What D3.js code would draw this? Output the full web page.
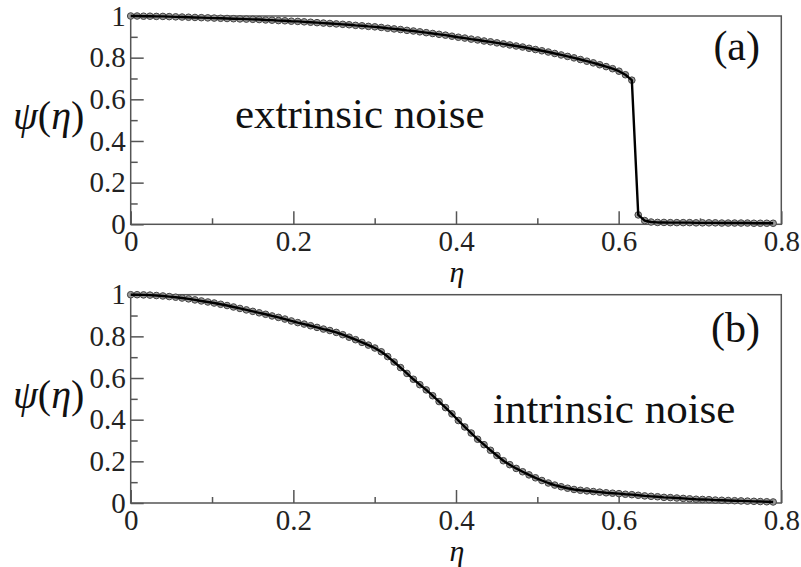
<!DOCTYPE html>
<html>
<head>
<meta charset="utf-8">
<script src="https://cdn.jsdelivr.net/npm/d3@7"></script>
<style>
  body { margin: 0; background: #fff; }
  svg { display: block; font-family: 'Liberation Serif', 'Times New Roman', serif; }
</style>
</head>
<body>
<div id="chart"></div>
<script>
// noise amplitude, shared by both panels
const eta = [
  0.0000, 0.0079, 0.0158, 0.0237, 0.0316, 0.0395, 0.0474, 0.0553, 0.0632, 0.0711,
  0.0790, 0.0869, 0.0948, 0.1027, 0.1106, 0.1185, 0.1264, 0.1343, 0.1422, 0.1501,
  0.1580, 0.1659, 0.1738, 0.1817, 0.1896, 0.1975, 0.2054, 0.2133, 0.2212, 0.2291,
  0.2370, 0.2449, 0.2528, 0.2607, 0.2686, 0.2765, 0.2844, 0.2923, 0.3002, 0.3081,
  0.3160, 0.3239, 0.3318, 0.3397, 0.3476, 0.3555, 0.3634, 0.3713, 0.3792, 0.3871,
  0.3950, 0.4029, 0.4108, 0.4187, 0.4266, 0.4345, 0.4424, 0.4503, 0.4582, 0.4661,
  0.4740, 0.4819, 0.4898, 0.4977, 0.5056, 0.5135, 0.5214, 0.5293, 0.5372, 0.5451,
  0.5530, 0.5609, 0.5688, 0.5767, 0.5846, 0.5925, 0.6004, 0.6083, 0.6162, 0.6241,
  0.6320, 0.6399, 0.6478, 0.6557, 0.6636, 0.6715, 0.6794, 0.6873, 0.6952, 0.7031,
  0.7110, 0.7189, 0.7268, 0.7347, 0.7426, 0.7505, 0.7584, 0.7663, 0.7742, 0.7821,
  0.7900
]

// (a) extrinsic noise
const psiExtrinsic = [
  1.000, 1.000, 0.999, 0.999, 0.998, 0.998, 0.997, 0.996, 0.995, 0.994,
  0.993, 0.992, 0.991, 0.990, 0.989, 0.988, 0.987, 0.986, 0.985, 0.984,
  0.983, 0.981, 0.980, 0.978, 0.977, 0.975, 0.974, 0.972, 0.970, 0.968,
  0.966, 0.964, 0.962, 0.960, 0.958, 0.955, 0.953, 0.950, 0.948, 0.945,
  0.941, 0.938, 0.935, 0.931, 0.928, 0.924, 0.920, 0.916, 0.912, 0.908,
  0.903, 0.898, 0.894, 0.889, 0.885, 0.880, 0.876, 0.871, 0.866, 0.861,
  0.856, 0.851, 0.845, 0.839, 0.833, 0.827, 0.820, 0.813, 0.806, 0.799,
  0.791, 0.783, 0.775, 0.766, 0.757, 0.747, 0.735, 0.718, 0.692, 0.045,
  0.018, 0.011, 0.009, 0.009, 0.008, 0.008, 0.008, 0.008, 0.007, 0.007,
  0.007, 0.007, 0.006, 0.006, 0.006, 0.006, 0.006, 0.005, 0.005, 0.005,
  0.005
]

// (b) intrinsic noise
const psiIntrinsic = [
  1.000, 1.000, 0.999, 0.998, 0.996, 0.994, 0.991, 0.988, 0.984, 0.980,
  0.975, 0.970, 0.965, 0.960, 0.954, 0.948, 0.941, 0.934, 0.927, 0.920,
  0.913, 0.906, 0.898, 0.891, 0.883, 0.874, 0.866, 0.859, 0.851, 0.843,
  0.835, 0.828, 0.819, 0.808, 0.796, 0.784, 0.771, 0.758, 0.744, 0.726,
  0.703, 0.677, 0.650, 0.622, 0.594, 0.568, 0.543, 0.515, 0.487, 0.458,
  0.428, 0.396, 0.365, 0.336, 0.306, 0.280, 0.253, 0.228, 0.203, 0.184,
  0.166, 0.150, 0.135, 0.121, 0.108, 0.096, 0.086, 0.078, 0.071, 0.065,
  0.061, 0.058, 0.055, 0.052, 0.049, 0.047, 0.045, 0.042, 0.040, 0.037,
  0.034, 0.032, 0.030, 0.027, 0.026, 0.024, 0.022, 0.020, 0.018, 0.017,
  0.016, 0.014, 0.013, 0.012, 0.011, 0.010, 0.009, 0.008, 0.007, 0.006,
  0.005
]

const xTicks = [0, 0.2, 0.4, 0.6, 0.8]
const xMinorTicks = [0.1, 0.3, 0.5, 0.7]
const yTicks = [0, 0.2, 0.4, 0.6, 0.8, 1]
const yMinorTicks = [0.1, 0.3, 0.5, 0.7, 0.9]

const panelLabels = ['(a)', '(b)']
const panelNotes = ['extrinsic noise', 'intrinsic noise']

const width = 801
const height = 567
const left = 130.7
const right = 781.3
const panelTops = [16, 294.7]
const panelHeight = 208.3
const serif = "'Liberation Serif', 'Times New Roman', serif"

const svg = d3.select('#chart')
  .append('svg')
  .attr('width', width)
  .attr('height', height)

const x = d3.scaleLinear().domain([0, 0.8]).range([left, right])

/**
 * Draws one panel: frame, ticks, curve and texts.
 *
 * @param {number} i The panel index
 * @param {number[]} values The psi values of the panel
 */
function drawPanel (i, values) {
  const top = panelTops[i]
  const bottom = top + panelHeight
  const y = d3.scaleLinear().domain([0, 1]).range([bottom, top])
  const g = svg.append('g').attr('class', 'panel-' + i)

  // major / minor ticks, pointing inwards
  g.append('g')
    .attr('class', 'x axis')
    .attr('transform', 'translate(0,' + bottom + ')')
    .call(d3.axisBottom(x).tickValues(xTicks).tickSize(-13).tickPadding(6).tickFormat(d => d))
  g.append('g')
    .attr('transform', 'translate(0,' + bottom + ')')
    .call(d3.axisBottom(x).tickValues(xMinorTicks).tickSize(-6).tickFormat(''))
  g.append('g')
    .attr('class', 'y axis')
    .attr('transform', 'translate(' + left + ',0)')
    .call(d3.axisLeft(y).tickValues(yTicks).tickSize(-13).tickPadding(5).tickFormat(d => d))
  g.append('g')
    .attr('transform', 'translate(' + left + ',0)')
    .call(d3.axisLeft(y).tickValues(yMinorTicks).tickSize(-7).tickFormat(''))

  g.selectAll('.domain').remove()
  g.selectAll('.tick line').attr('stroke', '#555').attr('stroke-width', 1.5)
  g.selectAll('.tick text')
    .style('font-family', serif)
    .style('font-size', '29px')
    .attr('fill', '#222')

  g.append('rect')
    .attr('x', left)
    .attr('y', top)
    .attr('width', right - left)
    .attr('height', panelHeight)
    .attr('fill', 'none')
    .attr('stroke', '#555')
    .attr('stroke-width', 1.5)

  const points = eta.map((e, k) => [e, values[k]])

  g.selectAll('.marker')
    .data(points).join('circle')
    .attr('class', 'marker')
    .attr('cx', d => x(d[0]))
    .attr('cy', d => y(d[1]))
    .attr('r', 3.3)
    .attr('fill', '#999')
    .attr('stroke', '#444')
    .attr('stroke-width', 1)

  g.append('path')
    .datum(points)
    .attr('fill', 'none')
    .attr('stroke', '#000')
    .attr('stroke-width', 2.4)
    .attr('stroke-linejoin', 'round')
    .attr('d', d3.line().x(d => x(d[0])).y(d => y(d[1])))

  // y label psi(eta)
  const yl = g.append('text')
    .attr('x', 13)
    .attr('y', top + 113)
    .style('font-family', serif)
    .style('font-size', '40px')
    .attr('fill', '#111')
  yl.append('tspan').attr('font-style', 'italic').text('ψ')
  yl.append('tspan').text('(')
  yl.append('tspan').attr('font-style', 'italic').text('η')
  yl.append('tspan').text(')')

  // x label eta
  g.append('text')
    .attr('x', 457)
    .attr('y', bottom + 58)
    .attr('text-anchor', 'middle')
    .style('font-family', serif)
    .style('font-size', '30px')
    .attr('font-style', 'italic')
    .attr('fill', '#111')
    .text('η')

  g.append('text')
    .attr('x', 760)
    .attr('y', top + (i === 0 ? 44 : 47))
    .attr('text-anchor', 'end')
    .style('font-family', serif)
    .style('font-size', '42px')
    .attr('fill', '#111')
    .text(panelLabels[i])

  g.append('text')
    .attr('x', i === 0 ? 235 : 493)
    .attr('y', top + (i === 0 ? 112 : 128))
    .style('font-family', serif)
    .style('font-size', '43px')
    .attr('fill', '#111')
    .text(panelNotes[i])
}

drawPanel(0, psiExtrinsic)
drawPanel(1, psiIntrinsic)
</script>
</body>
</html>
